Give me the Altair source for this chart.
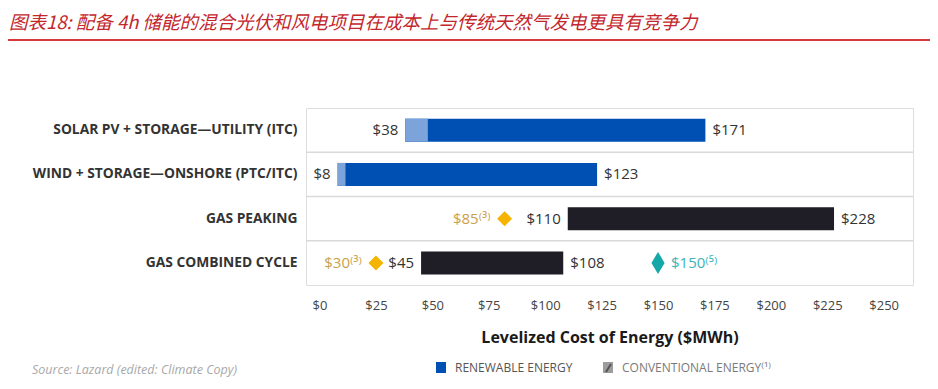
import altair as alt
import pandas as pd

# ---------------- data ----------------
categories = [
    "SOLAR PV + STORAGE—UTILITY (ITC)",
    "WIND + STORAGE—ONSHORE (PTC/ITC)",
    "GAS PEAKING",
    "GAS COMBINED CYCLE",
]
low = [38, 8, 110, 45]
high = [171, 123, 228, 108]
group = ["renewable", "renewable", "conventional", "conventional"]

credit_rows = ["SOLAR PV + STORAGE—UTILITY (ITC)", "WIND + STORAGE—ONSHORE (PTC/ITC)"]
credit_low = [38, 8]
credit_end = [48, 11.5]

marker_rows = ["GAS PEAKING", "GAS COMBINED CYCLE", "GAS COMBINED CYCLE"]
marker_pos = [82, 25, 150]
marker_text = ["$85⁽³⁾", "$30⁽³⁾", "$150⁽⁵⁾"]
marker_kind = ["gold", "gold", "teal"]

tick_values = [0, 25, 50, 75, 100, 125, 150, 175, 200, 225, 250]

title_text = "图表18: 配备 4h 储能的混合光伏和风电项目在成本上与传统天然气发电更具有竞争力"
axis_title = "Levelized Cost of Energy ($MWh)"
source_text = "Source: Lazard (edited: Climate Copy)"
legend_labels = ["RENEWABLE ENERGY", "CONVENTIONAL ENERGY⁽¹⁾"]

# ---------------- tables ----------------
df = pd.DataFrame({
    "category": categories, "low": low, "high": high, "group": group,
    "low_label": ["$" + str(v) for v in low],
    "high_label": ["$" + str(v) for v in high],
})
df_credit = pd.DataFrame({"category": credit_rows, "low": credit_low, "end": credit_end})
df_mark = pd.DataFrame({"category": marker_rows, "pos": marker_pos,
                        "text": marker_text, "kind": marker_kind})
df_sep = pd.DataFrame({"category": categories[1:]})
one = pd.DataFrame({"t": [0]})

W, H = 607, 177
BLUE, LIGHT, BLACK = "#0050B4", "#7CA4DB", "#1F1D25"
GOLD_M, GOLD_T = "#F5B400", "#C9A24A"
TEAL_M, TEAL_T = "#16A8A8", "#3DB3B8"
FONT = "Open Sans"

xscale = alt.Scale(domain=[-6, 263], nice=False, zero=False)
xaxis = alt.Axis(values=tick_values, labelExpr="'$' + datum.value", title=axis_title,
                 titleFontSize=16, titleFontWeight="bold", titleColor="#1a1a1a",
                 titlePadding=17, titleFont=FONT, labelFont=FONT,
                 labelFontSize=13, labelColor="#444", labelPadding=14,
                 ticks=False, domain=False, grid=False, labelFlush=False)
yscale = alt.Scale(type="band", domain=categories, paddingInner=0, paddingOuter=0)
yaxis = alt.Axis(title=None, labelFontSize=13.8, labelFontWeight="bold", labelColor="#333",
                 labelPadding=9, ticks=False, domain=False, grid=False, labelLimit=400,
                 labelFont=FONT)


def X(f):
    return alt.X(f, type="quantitative", scale=xscale, axis=xaxis)


def Y(**kw):
    return alt.Y("category:N", scale=yscale, axis=yaxis, sort=categories, **kw)


seps = alt.Chart(df_sep).mark_rule(color="#d9d9d9", strokeWidth=1.5).encode(
    y=Y(bandPosition=0), x=alt.value(0), x2=alt.value(W))

bars = alt.Chart(df).mark_bar(size=23).encode(
    x=X("low"), x2="high", y=Y(),
    color=alt.Color("group:N", scale=alt.Scale(domain=["renewable", "conventional"],
                                               range=[BLUE, BLACK]), legend=None))

credit = alt.Chart(df_credit).mark_bar(size=23, color=LIGHT).encode(
    x=X("low"), x2="end", y=Y())

low_lbl = alt.Chart(df).mark_text(align="right", dx=-7, fontSize=15, color="#333", font=FONT).encode(
    x=X("low"), y=Y(), text="low_label:N")
high_lbl = alt.Chart(df).mark_text(align="left", dx=7, fontSize=15, color="#333", font=FONT).encode(
    x=X("high"), y=Y(), text="high_label:N")

gold = df_mark[df_mark.kind == "gold"]
teal = df_mark[df_mark.kind == "teal"]
gold_pts = alt.Chart(gold).mark_point(shape="M0,-1L1,0L0,1L-1,0Z", filled=True, size=225,
                                      opacity=1, color=GOLD_M, strokeWidth=0).encode(
    x=X("pos"), y=Y())
gold_txt = alt.Chart(gold).mark_text(align="right", dx=-14, fontSize=15, color=GOLD_T, font=FONT).encode(
    x=X("pos"), y=Y(), text="text:N")
teal_pts = alt.Chart(teal).mark_point(shape="M0,-1L0.6,0L0,1L-0.6,0Z", filled=True, size=484,
                                      opacity=1, color=TEAL_M, strokeWidth=0).encode(
    x=X("pos"), y=Y())
teal_txt = alt.Chart(teal).mark_text(align="left", dx=13, fontSize=15, color=TEAL_T, font=FONT).encode(
    x=X("pos"), y=Y(), text="text:N")

# ---------------- page furniture ----------------
title = alt.Chart(one).mark_text(align="left", baseline="middle", fontSize=18.5, fontStyle="italic",
                                 font="Noto Sans CJK SC", color="#C3272D").encode(
    x=alt.value(-297), y=alt.value(-85), text=alt.value(title_text))
red_line = alt.Chart(one).mark_rule(color="#D23A40", strokeWidth=2).encode(
    x=alt.value(-303), x2=alt.value(624), y=alt.value(-68))
source = alt.Chart(one).mark_text(align="left", baseline="middle", fontSize=12.5, fontStyle="italic",
                                  font=FONT, color="#a8a8a8").encode(
    x=alt.value(-274), y=alt.value(262), text=alt.value(source_text))
leg_blue = alt.Chart(one).mark_rect(color=BLUE).encode(
    x=alt.value(130), x2=alt.value(140), y=alt.value(254), y2=alt.value(265))
leg_gray = alt.Chart(one).mark_rect(color="#9c9c9c").encode(
    x=alt.value(297), x2=alt.value(307), y=alt.value(254), y2=alt.value(265))
leg_slash = alt.Chart(one).mark_rule(color="#555", strokeWidth=2).encode(
    x=alt.value(300), x2=alt.value(305), y=alt.value(264), y2=alt.value(256))
leg_t1 = alt.Chart(one).mark_text(align="left", baseline="middle", fontSize=12, font=FONT,
                                  color="#555").encode(
    x=alt.value(149), y=alt.value(260), text=alt.value(legend_labels[0]))
leg_t2 = alt.Chart(one).mark_text(align="left", baseline="middle", fontSize=12, font=FONT,
                                  color="#7a7a7a").encode(
    x=alt.value(316), y=alt.value(260), text=alt.value(legend_labels[1]))

chart = alt.layer(
    seps, bars, credit, low_lbl, high_lbl, gold_pts, gold_txt, teal_pts, teal_txt,
    title, red_line, source, leg_blue, leg_gray, leg_slash, leg_t1, leg_t2,
).properties(
    width=W, height=H,
    autosize=alt.AutoSizeParams(type="none"),
    padding={"left": 298, "top": 100, "right": 17, "bottom": 96},
    background="white",
).configure_view(stroke="#cfcfcf", strokeWidth=1.5).configure(font=FONT)

chart.save("out.html", embed_options={"renderer": "svg", "actions": False})
